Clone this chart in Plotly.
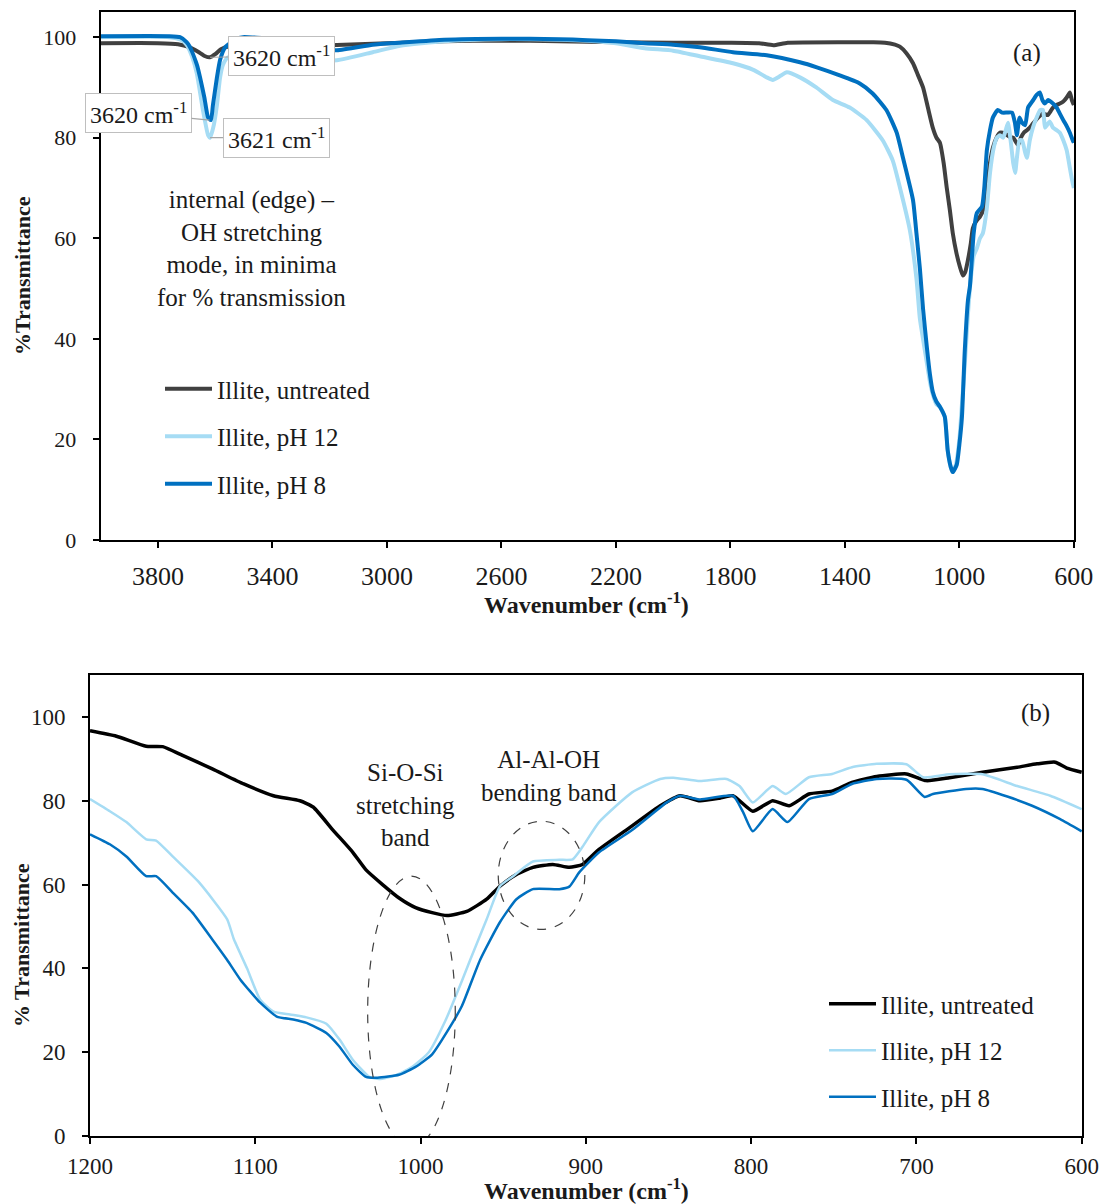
import plotly.graph_objects as go

# ---------------- Panel (a) data ----------------
a_untreated_wn = [4000, 3800, 3730, 3690, 3660, 3635, 3618, 3600, 3580, 3550, 3400, 3200, 3000, 2800,
                  2600, 2400, 2200, 2000, 1800, 1700, 1650, 1600, 1400, 1300, 1260, 1225, 1208, 1185,
                  1162, 1145, 1127, 1110, 1093, 1080, 1068, 1055, 1044, 1033, 1023, 1010, 998, 988,
                  980, 970, 960, 953, 940, 928, 915, 904, 893, 883, 870, 858, 840, 825, 812, 803,
                  795, 785, 775, 764, 754, 743, 725, 708, 691, 682, 673, 660, 649, 637, 625, 614,
                  607, 600]
a_untreated_t = [98.8, 98.8, 98.6, 98.0, 97.1, 96.2, 96.0, 96.6, 97.6, 98.2, 98.3, 98.4, 98.8, 99.2,
                 99.3, 99.2, 99.0, 98.9, 98.9, 98.8, 98.4, 98.9, 99.0, 99.0, 98.9, 98.5, 98.1, 96.8,
                 94.8, 92.5, 90.0, 86.0, 82.0, 80.0, 79.0, 75.0, 70.0, 65.5, 61.0, 57.0, 54.3, 52.6,
                 53.2, 55.7, 59.0, 62.0, 63.5, 64.3, 66.0, 70.0, 75.0, 78.0, 80.0, 81.0, 80.8, 80.2,
                 80.0, 79.2, 78.5, 80.0, 81.0, 81.5, 82.0, 82.8, 84.0, 84.8, 84.5, 85.2, 86.0, 86.5,
                 86.8, 87.2, 88.0, 89.0, 87.5, 86.5]

a_ph12_wn = [4000, 3760, 3720, 3700, 3680, 3664, 3643, 3625, 3618, 3605, 3594, 3583, 3573, 3555,
             3400, 3300, 3175, 3050, 2954, 2800, 2600, 2400, 2300, 2200, 2100, 2000, 1907, 1791,
             1720, 1673, 1652, 1625, 1603, 1557, 1500, 1442, 1383, 1324, 1268, 1233, 1197, 1173,
             1150, 1138, 1127, 1113, 1103, 1093, 1080, 1068, 1051, 1041, 1030, 1023, 1012, 1000,
             991, 981, 970, 960, 950, 939, 928, 918, 904, 893, 880, 869, 858, 847, 838, 830, 820,
             812, 805, 799, 790, 781, 770, 764, 754, 743, 730, 718, 708, 701, 694, 684, 673, 660,
             649, 637, 625, 614, 606, 600]
a_ph12_t = [100.0, 100.0, 99.5, 98.5, 96.0, 92.7, 85.5, 80.5, 80.0, 82.5, 86.5, 92.0, 94.5, 96.0,
            96.0, 95.5, 95.4, 97.0, 98.3, 99.2, 99.6, 99.5, 99.3, 98.8, 97.8, 97.3, 96.2, 94.8,
            93.5, 92.0, 91.5, 92.3, 93.0, 92.0, 90.0, 87.5, 86.0, 83.5, 79.5, 75.5, 67.6, 61.6,
            52.0, 44.0, 40.0, 35.0, 31.5, 29.0, 27.0, 26.5, 24.5, 18.0, 14.5, 13.5, 15.0, 20.0,
            27.0, 35.0, 45.0, 52.0, 56.5, 58.0, 60.0, 61.0, 66.0, 73.0, 78.0, 80.0, 80.5, 80.0,
            81.5, 83.0, 79.0, 75.0, 73.0, 76.0, 79.5, 79.5, 77.0, 76.0, 79.5, 82.0, 84.0, 85.5,
            85.5, 82.0, 82.5, 83.2, 82.0, 81.5, 81.0, 79.5, 77.5, 74.0, 71.5, 70.0]

a_ph8_wn = [4000, 3760, 3723, 3700, 3688, 3664, 3653, 3638, 3625, 3615, 3608, 3594, 3583, 3565,
            3520, 3503, 3433, 3300, 3175, 3050, 2954, 2800, 2600, 2400, 2300, 2200, 2100, 2000,
            1907, 1791, 1673, 1557, 1498, 1418, 1348, 1303, 1255, 1219, 1197, 1162, 1150, 1138,
            1127, 1113, 1103, 1093, 1080, 1068, 1051, 1041, 1030, 1023, 1009, 1000, 991, 981,
            970, 963, 950, 939, 921, 913, 904, 893, 883, 866, 851, 833, 816, 806, 799, 790, 781,
            770, 760, 743, 730, 719, 710, 701, 690, 673, 660, 649, 637, 625, 614, 604, 600]
a_ph8_t = [100.2, 100.2, 100.0, 99.0, 98.0, 94.5, 92.0, 88.0, 84.0, 83.5, 86.5, 92.0, 95.5, 98.0,
           99.8, 100.0, 99.8, 98.0, 97.4, 98.5, 98.9, 99.5, 99.7, 99.6, 99.4, 99.2, 98.8, 98.5,
           98.0, 97.0, 96.4, 95.0, 94.0, 92.4, 90.8, 88.8, 85.5, 81.0, 76.0, 67.6, 61.0, 54.0,
           46.0, 38.0, 33.0, 29.5, 27.5, 26.5, 24.5, 17.9, 14.5, 13.5, 15.0, 19.0, 24.5, 37.8,
           47.7, 50.5, 61.0, 65.0, 66.3, 70.0, 77.5, 81.5, 84.0, 85.5, 85.0, 85.0, 85.0, 83.0,
           80.5, 84.0, 83.0, 82.5, 86.0, 87.4, 88.5, 89.0, 87.5, 86.8, 87.5, 86.8, 86.0, 84.8,
           83.5, 82.3, 81.0, 79.5, 79.0]

# ---------------- Panel (b) data ----------------
b_untreated_wn = [1200, 1184, 1166, 1156, 1144, 1126, 1107, 1089, 1073, 1065, 1053, 1041, 1033, 1023,
                  1013, 1003, 993, 984, 972, 960, 952, 942, 932, 920, 910, 902, 892, 872, 855, 843,
                  831, 819, 811, 799, 787, 777, 765, 751, 739, 724, 706, 694, 680, 660, 639, 627,
                  616, 609, 600]
b_untreated_t = [96.7, 95.4, 93.0, 92.9, 90.8, 87.6, 84.0, 81.2, 80.0, 78.5, 73.0, 67.7, 63.5, 60.0,
                 56.8, 54.5, 53.3, 52.6, 53.6, 56.5, 59.6, 62.4, 64.1, 64.8, 64.1, 64.8, 68.4, 74.0,
                 78.8, 81.2, 80.0, 80.6, 81.2, 77.5, 80.0, 78.8, 81.6, 82.3, 84.4, 85.8, 86.4, 84.8,
                 85.5, 86.8, 88.0, 88.8, 89.2, 87.8, 86.8]

b_ph12_wn = [1200, 1188, 1178, 1166, 1160, 1150, 1134, 1117, 1113, 1105, 1097, 1089, 1079, 1069,
             1057, 1049, 1041, 1031, 1025, 1015, 1005, 995, 985, 975, 970, 960, 952, 944, 932,
             916, 908, 902, 892, 872, 855, 847, 831, 815, 807, 799, 787, 779, 765, 751, 739,
             724, 706, 696, 680, 660, 639, 619, 600]
b_ph12_t = [80.4, 77.5, 74.9, 70.8, 70.5, 66.7, 60.5, 51.7, 47.0, 40.0, 32.5, 29.7, 29.0, 28.3,
            26.8, 23.0, 18.2, 14.1, 13.6, 14.5, 16.5, 20.0, 27.5, 37.0, 42.0, 51.7, 59.6, 62.0,
            65.5, 65.9, 66.0, 69.0, 74.9, 82.0, 85.2, 85.5, 84.7, 85.2, 83.5, 79.6, 83.5, 81.6,
            85.6, 86.4, 88.0, 88.8, 88.7, 85.6, 86.3, 86.3, 83.5, 81.2, 78.0]

b_ph8_wn = [1200, 1188, 1178, 1166, 1160, 1150, 1138, 1126, 1117, 1109, 1097, 1087, 1077, 1069,
            1057, 1049, 1041, 1033, 1026, 1013, 1003, 993, 983, 975, 964, 952, 942, 932, 916,
            910, 904, 892, 872, 851, 843, 831, 811, 805, 799, 787, 778, 765, 751, 739, 724,
            706, 695, 690, 670, 660, 645, 630, 613, 600]
b_ph8_t = [72.0, 69.6, 66.7, 62.0, 62.0, 58.1, 53.3, 46.9, 42.0, 37.3, 31.8, 28.5, 27.8, 27.0,
           24.6, 21.3, 17.0, 14.1, 13.9, 14.6, 16.5, 19.5, 25.5, 31.0, 42.0, 51.0, 56.5, 58.9,
           58.9, 59.5, 62.9, 67.7, 73.0, 79.6, 81.2, 80.3, 81.2, 77.4, 72.7, 78.0, 74.9, 80.4,
           81.6, 84.0, 85.2, 85.0, 80.9, 81.6, 82.8, 82.8, 81.0, 78.8, 75.6, 72.7]

series_names = ["Illite, untreated", "Illite, pH 12", "Illite, pH 8"]
a_ticks = [3800, 3400, 3000, 2600, 2200, 1800, 1400, 1000, 600]
b_ticks = [1200, 1100, 1000, 900, 800, 700, 600]
y_ticks = [0, 20, 40, 60, 80, 100]

OFF = 0  # page body margin is removed by the post script below
W, H = 1099 - 2 * OFF, 1204 - 2 * OFF
FONT = "Liberation Serif, Times New Roman, serif"
TXT = "#1a1a1a"

fig = go.Figure()

# panel a
for i, (wn, t, col, w) in enumerate([
        (a_untreated_wn, a_untreated_t, "#404040", 4),
        (a_ph12_wn, a_ph12_t, "#a6dcf4", 4),
        (a_ph8_wn, a_ph8_t, "#0070c0", 4)]):
    fig.add_trace(go.Scatter(x=wn, y=t, mode="lines", name=series_names[i],
                             line=dict(color=col, width=w, shape="spline", smoothing=0.5),
                             xaxis="x", yaxis="y", legend="legend", legendgroup="a%d" % i))
# panel b
for i, (wn, t, col, w) in enumerate([
        (b_untreated_wn, b_untreated_t, "#000000", 3.5),
        (b_ph12_wn, b_ph12_t, "#a6dcf4", 2.5),
        (b_ph8_wn, b_ph8_t, "#0070c0", 2.5)]):
    fig.add_trace(go.Scatter(x=wn, y=t, mode="lines", name=series_names[i],
                             line=dict(color=col, width=w, shape="spline", smoothing=0.5),
                             xaxis="x2", yaxis="y2", legend="legend2", legendgroup="b%d" % i))

def px_x(p):
    return (p - OFF) / W

def px_y(p):
    return 1 - (p - OFF) / H

axis_common = dict(showgrid=False, zeroline=False, showline=True, linecolor="black", linewidth=2,
                   mirror=True, ticks="outside", tickcolor="black", ticklen=6, tickwidth=1.5,
                   automargin=False)

fig.update_layout(
    width=W, height=H,
    margin=dict(l=0, r=0, t=0, b=0),
    paper_bgcolor="white", plot_bgcolor="white",
    font=dict(family=FONT, color=TXT),
    xaxis=dict(domain=[px_x(100.75), px_x(1074)], range=[4000, 599.5], tickvals=a_ticks,
               tickfont=dict(size=26, family=FONT, color=TXT), ticklabelstandoff=6,
               ticklabeloverflow="allow", anchor="y", **axis_common),
    yaxis=dict(domain=[px_y(540), px_y(12)], range=[0, 105], tickvals=y_ticks,
               tickfont=dict(size=22, family=FONT, color=TXT), ticklabelstandoff=12,
               anchor="x", **axis_common),
    xaxis2=dict(domain=[px_x(90), px_x(1082)], range=[1200, 599.8], tickvals=b_ticks,
                tickfont=dict(size=23, family=FONT, color=TXT), ticklabelstandoff=2,
                ticklabeloverflow="allow", anchor="y2", **axis_common),
    yaxis2=dict(domain=[px_y(1136), px_y(675)], range=[0, 110], tickvals=y_ticks,
                tickfont=dict(size=23, family=FONT, color=TXT), ticklabelstandoff=12,
                anchor="x2", **axis_common),
    legend=dict(x=px_x(160), y=px_y(366), xanchor="left", yanchor="top", itemwidth=47,
                font=dict(size=25, family=FONT, color=TXT), bgcolor="rgba(0,0,0,0)",
                tracegroupgap=12, traceorder="grouped"),
    legend2=dict(x=px_x(824), y=px_y(981), xanchor="left", yanchor="top", itemwidth=47,
                 font=dict(size=25, family=FONT, color=TXT), bgcolor="rgba(0,0,0,0)",
                 tracegroupgap=11, traceorder="grouped"),
    showlegend=True,
)

ann = []
# axis titles
title_font = dict(size=22, family=FONT, color=TXT)
ann.append(dict(text="<b>%Transmittance</b>", x=px_x(22), y=px_y(276), xref="paper", yref="paper",
                xanchor="center", yanchor="middle", textangle=-90, showarrow=False, font=title_font))
ann.append(dict(text="<b>% Transmittance</b>", x=px_x(22), y=px_y(945), xref="paper", yref="paper",
                xanchor="center", yanchor="middle", textangle=-90, showarrow=False, font=title_font))
ann.append(dict(text="<b>Wavenumber (cm<sup>-1</sup>)</b>", x=px_x(586), y=px_y(603), xref="paper",
                yref="paper", xanchor="center", yanchor="middle", showarrow=False,
                font=dict(size=24, family=FONT, color=TXT)))
ann.append(dict(text="<b>Wavenumber (cm<sup>-1</sup>)</b>", x=px_x(586), y=px_y(1189), xref="paper",
                yref="paper", xanchor="center", yanchor="middle", showarrow=False,
                font=dict(size=24, family=FONT, color=TXT)))

# peak labels, panel a
box = dict(showarrow=True, arrowhead=0, arrowwidth=1.2, arrowcolor="#a6a6a6", bordercolor="#bfbfbf",
           borderwidth=1, borderpad=4, bgcolor="white", xref="x", yref="y",
           font=dict(size=24, family=FONT, color=TXT))
ann.append(dict(text="3620 cm<sup>-1</sup>", x=3618, y=96.0, ax=71, ay=-1, **box))
ann.append(dict(text="3620 cm<sup>-1</sup>", x=3620, y=83.5, ax=-71, ay=-7, **box))
ann.append(dict(text="3621 cm<sup>-1</sup>", x=3618, y=80.0, ax=66, ay=0, **box))

ann.append(dict(text="internal (edge) \u2013<br>OH stretching<br>mode, in minima<br>for % transmission",
                x=3475, y=58, xref="x", yref="y", showarrow=False, align="center",
                font=dict(size=25, family=FONT, color=TXT)))
ann.append(dict(text="(a)", x=764, y=96.8, xref="x", yref="y", showarrow=False,
                font=dict(size=25, family=FONT, color=TXT)))

# panel b labels
ann.append(dict(text="Si-O-Si<br>stretching<br>band", x=1009, y=79, xref="x2", yref="y2",
                showarrow=False, align="center", font=dict(size=25, family=FONT, color=TXT)))
ann.append(dict(text="Al-Al-OH<br>bending band", x=922, y=86, xref="x2", yref="y2",
                showarrow=False, align="center", font=dict(size=25, family=FONT, color=TXT)))
ann.append(dict(text="(b)", x=628, y=101, xref="x2", yref="y2", showarrow=False,
                font=dict(size=25, family=FONT, color=TXT)))

fig.update_layout(annotations=ann)

fig.update_layout(shapes=[
    dict(type="circle", xref="x2", yref="y2", x0=1032, x1=979, y0=-2.6, y1=62,
         line=dict(color="#404040", width=1.2, dash="dash")),
    dict(type="circle", xref="x2", yref="y2", x0=953, x1=900.6, y0=49.3, y1=75.1,
         line=dict(color="#404040", width=1.2, dash="dash")),
])

fig.write_html("out.html",
               config={"displayModeBar": False},
               post_script="document.body.style.margin='0px';"
                           "document.documentElement.style.overflow='hidden';")
